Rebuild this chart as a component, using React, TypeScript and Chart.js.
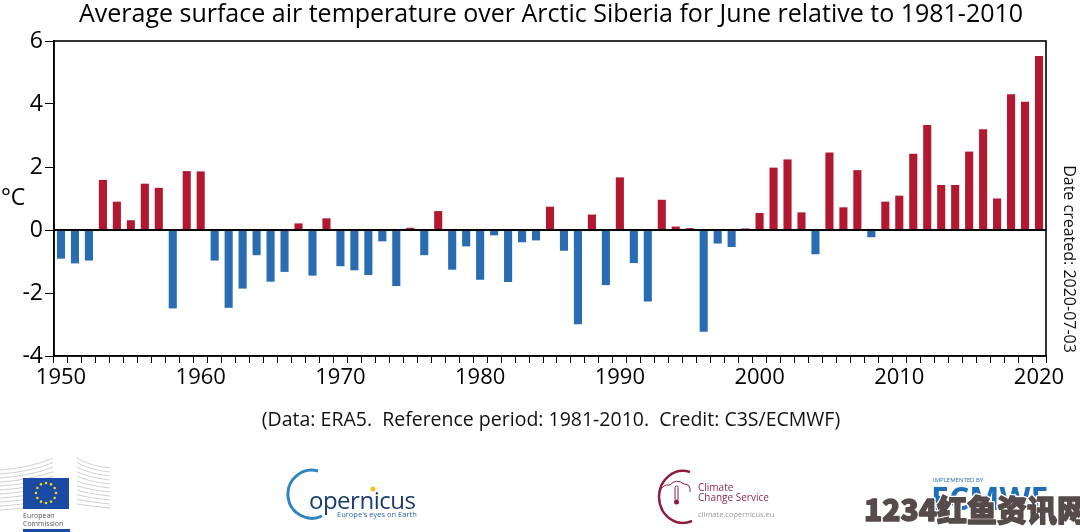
import React, { useEffect, useRef } from 'react';
import { Chart, registerables } from 'chart.js';

Chart.register(...registerables);

const years = [
  '1950', '1951', '1952', '1953', '1954', '1955', '1956', '1957', '1958', '1959',
  '1960', '1961', '1962', '1963', '1964', '1965', '1966', '1967', '1968', '1969',
  '1970', '1971', '1972', '1973', '1974', '1975', '1976', '1977', '1978', '1979',
  '1980', '1981', '1982', '1983', '1984', '1985', '1986', '1987', '1988', '1989',
  '1990', '1991', '1992', '1993', '1994', '1995', '1996', '1997', '1998', '1999',
  '2000', '2001', '2002', '2003', '2004', '2005', '2006', '2007', '2008', '2009',
  '2010', '2011', '2012', '2013', '2014', '2015', '2016', '2017', '2018', '2019',
  '2020',
];

const anomalies = [
  -0.91, -1.06, -0.97, 1.59, 0.9, 0.31, 1.47, 1.34, -2.49, 1.87,
  1.86, -0.97, -2.47, -1.86, -0.8, -1.64, -1.33, 0.21, -1.45, 0.37,
  -1.15, -1.28, -1.43, -0.36, -1.78, 0.07, -0.8, 0.6, -1.26, -0.52,
  -1.58, -0.17, -1.65, -0.39, -0.33, 0.74, -0.66, -2.99, 0.49, -1.75,
  1.67, -1.05, -2.27, 0.96, 0.11, 0.06, -3.23, -0.43, -0.54, 0.05,
  0.54, 1.98, 2.24, 0.56, -0.77, 2.46, 0.72, 1.9, -0.23, 0.9,
  1.09, 2.42, 3.33, 1.43, 1.43, 2.49, 3.2, 1.0, 4.31, 4.07,
  5.52,
];

const labelledYears = ['1950', '1960', '1970', '1980', '1990', '2000', '2010', '2020'];
const yMin = -4;
const yMax = 6;
const yStep = 2;

const titleText = 'Average surface air temperature over Arctic Siberia for June relative to 1981-2010';
const captionText = '(Data: ERA5.  Reference period: 1981-2010.  Credit: C3S/ECMWF)';
const dateText = 'Date created: 2020-07-03';
const unitText = '°C';

const WARM = '#b2182f';
const COOL = '#2a6cb2';
const FONT = '"Open Sans", "DejaVu Sans", sans-serif';

const framePlugin = {
  id: 'frameAndTexts',
  afterDatasetsDraw(chart: any) {
    const { ctx, chartArea, scales } = chart;
    const { left, right, top, bottom } = chartArea;
    ctx.save();
    ctx.strokeStyle = '#000';
    ctx.lineWidth = 1.6;
    ctx.strokeRect(left, top, right - left, bottom - top);
    const y0 = scales.y.getPixelForValue(0);
    ctx.lineWidth = 2;
    ctx.beginPath();
    ctx.moveTo(left, y0);
    ctx.lineTo(right, y0);
    ctx.stroke();

    ctx.fillStyle = '#000';
    ctx.textBaseline = 'middle';
    ctx.textAlign = 'center';
    ctx.font = `25px ${FONT}`;
    ctx.fillText(titleText, 551, 15);

    ctx.font = `19.5px ${FONT}`;
    ctx.fillStyle = '#111';
    ctx.fillText(captionText, 551, 420);

    ctx.fillStyle = '#000';
    ctx.font = `23px ${FONT}`;
    ctx.textAlign = 'left';
    ctx.fillText(unitText, 1, 198);

    ctx.save();
    ctx.translate(1069, 259);
    ctx.rotate(Math.PI / 2);
    ctx.textAlign = 'center';
    ctx.font = `16px ${FONT}`;
    ctx.fillStyle = '#111';
    ctx.fillText(dateText, 0, 0);
    ctx.restore();
    ctx.restore();
  },
};

function Logos() {
  const stars = Array.from({ length: 12 }, (_, i) => {
    const a = (i / 12) * Math.PI * 2;
    return { cx: 46 + Math.cos(a) * 10, cy: 493 + Math.sin(a) * 10 };
  });
  const leftLines = Array.from({ length: 11 }, (_, i) => i);
  const wmFont = '"Noto Sans CJK SC", "Open Sans", sans-serif';
  return (
    <svg width={1080} height={532} style={{ position: 'absolute', left: 0, top: 0, pointerEvents: 'none' }}>
      {/* European Commission */}
      {leftLines.map((i) => (
        <path key={'l' + i} d={`M0 ${470 + i * 4} Q30 ${468 + i * 4} 53 ${458 + i * 4.6}`} stroke="#c4c4c4" strokeWidth={0.8} fill="none" />
      ))}
      {leftLines.map((i) => (
        <path key={'r' + i} d={`M77 ${458 + i * 4.6} Q90 ${466 + i * 4} 110 ${468 + i * 4}`} stroke="#c4c4c4" strokeWidth={0.8} fill="none" />
      ))}
      <rect x={23} y={478} width={46} height={31} fill="#1a4aa3" />
      {stars.map((s, i) => (
        <circle key={'s' + i} cx={s.cx} cy={s.cy} r={1.3} fill="#f5d90a" />
      ))}
      <text x={23} y={518} fontSize={7} fill="#555" fontFamily="Open Sans">European</text>
      <text x={23} y={526} fontSize={7} fill="#555" fontFamily="Open Sans">Commission</text>
      <rect x={23} y={529} width={47} height={3} fill="#1a4aa3" />

      {/* Copernicus */}
      <path d="M318 471 A24 24 0 1 0 322 516" stroke="#2f86c0" strokeWidth={3} fill="none" />
      <text x={309} y={509} fontSize={24} fill="#1b3d6d" fontFamily="Open Sans" letterSpacing={-0.5}>opernicus</text>
      <circle cx={373} cy={489} r={2.5} fill="#f2c21b" />
      <text x={337} y={517} fontSize={7.5} fill="#2a6aa6" fontFamily="Open Sans">Europe's eyes on Earth</text>

      {/* Climate Change Service */}
      <path d="M690 472 A24 26 0 1 0 692 521" stroke="#8d1d3d" strokeWidth={2.5} fill="none" />
      <path d="M660 492 Q662 484 670 485 Q676 478 684 484 Q691 484 690 492" stroke="#8d1d3d" strokeWidth={1} fill="none" />
      <rect x={675} y={486} width={3} height={15} rx={1.5} fill="none" stroke="#8d1d3d" strokeWidth={1} />
      <circle cx={676.5} cy={502} r={2.5} fill="#8d1d3d" />
      <text x={698} y={491} fontSize={10} fill="#8d2a4a" fontFamily="Open Sans">Climate</text>
      <text x={698} y={501} fontSize={10} fill="#8d2a4a" fontFamily="Open Sans">Change Service</text>
      <text x={698} y={517} fontSize={7.5} fill="#999" fontFamily="Open Sans">climate.copernicus.eu</text>

      {/* ECMWF + watermark */}
      <text x={933} y={482} fontSize={6} fill="#2a6bb5" fontFamily="Open Sans">IMPLEMENTED BY</text>
      <text x={931} y={510} fontSize={32} fontWeight={700} fill="#1f6fb7" fontFamily="Open Sans">ECMWF</text>
      <text x={864} y={521} fontSize={30} fontWeight={900} fill="#ffffff" stroke="#ffffff" strokeWidth={4} strokeLinejoin="round" fontFamily={wmFont}>1234红鱼资讯网</text>
      <text x={864} y={521} fontSize={30} fontWeight={900} fill="#564b4b" stroke="#564b4b" strokeWidth={1.4} strokeLinejoin="round" fontFamily={wmFont}>1234红鱼资讯网</text>
    </svg>
  );
}

export default function App() {
  const canvasRef = useRef<HTMLCanvasElement | null>(null);

  useEffect(() => {
    document.body.style.margin = '0';
    const canvas = canvasRef.current;
    if (!canvas) return;
    const chart = new Chart(canvas, {
      type: 'bar',
      data: {
        labels: years,
        datasets: [
          {
            data: anomalies,
            backgroundColor: anomalies.map((v) => (v >= 0 ? WARM : COOL)),
            borderWidth: 0,
            barPercentage: 0.58,
            categoryPercentage: 1,
          },
        ],
      },
      options: {
        responsive: false,
        animation: false,
        events: [],
        layout: { padding: { left: 0, right: 34, top: 41, bottom: 136 } },
        plugins: {
          legend: { display: false },
          title: { display: false },
          tooltip: { enabled: false },
        },
        scales: {
          x: {
            type: 'category',
            offset: true,
            afterFit: (s: any) => {
              s.height = 40;
            },
            grid: {
              offset: true,
              drawOnChartArea: false,
              drawTicks: true,
              tickLength: 7,
              color: '#000',
              lineWidth: 1,
            },
            border: { display: true, color: '#000', width: 1.6 },
            ticks: {
              autoSkip: false,
              maxRotation: 0,
              minRotation: 0,
              padding: 2,
              color: '#000',
              font: { family: FONT, size: 22 },
              callback: function (this: any, _v: any, i: number) {
                const lab = years[i];
                return labelledYears.includes(lab) ? lab : '';
              },
            },
          },
          y: {
            min: yMin,
            max: yMax,
            afterFit: (s: any) => {
              s.width = 54;
            },
            grid: {
              drawOnChartArea: false,
              drawTicks: true,
              tickLength: 9,
              color: '#000',
              lineWidth: 1,
            },
            border: { display: true, color: '#000', width: 1.6 },
            ticks: {
              stepSize: yStep,
              padding: 2,
              color: '#000',
              font: { family: FONT, size: 23 },
            },
          },
        },
      },
      plugins: [framePlugin],
    } as any);
    return () => chart.destroy();
  }, []);

  return (
    <div style={{ position: 'relative', width: 1080, height: 532, background: '#fff', overflow: 'hidden' }}>
      <canvas ref={canvasRef} width={1080} height={532} style={{ position: 'absolute', left: 0, top: 0 }} />
      <Logos />
    </div>
  );
}
